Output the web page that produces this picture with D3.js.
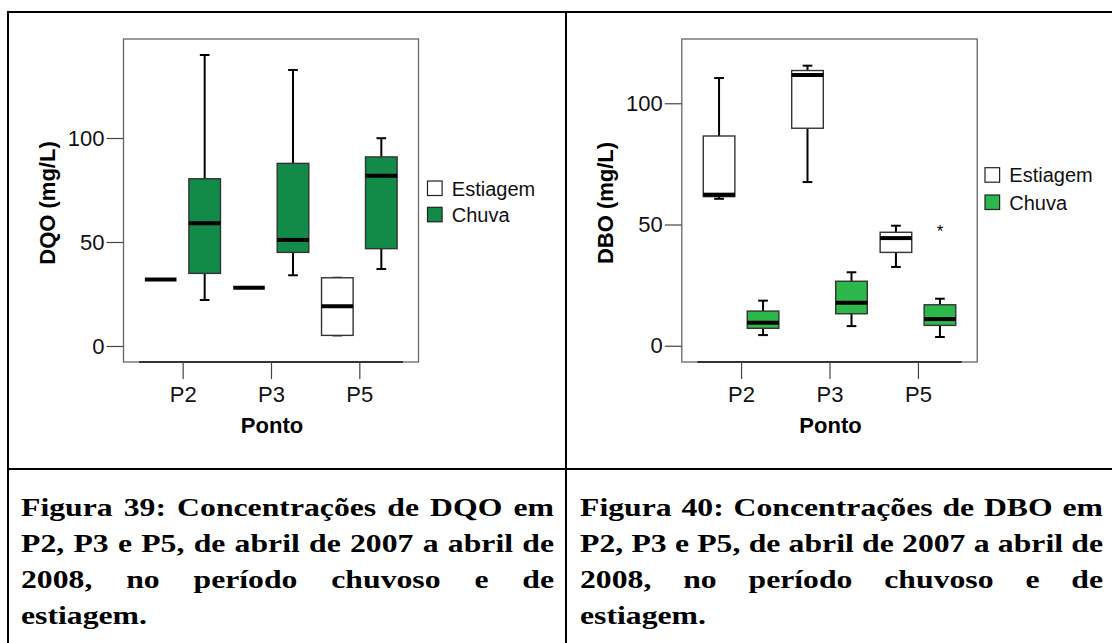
<!DOCTYPE html>
<html>
<head>
<meta charset="utf-8">
<script src="https://cdn.jsdelivr.net/npm/d3@7"></script>
<style>
  body { margin: 0; background: #fff; }
  svg { display: block; }
  .axis text { font-family: "Liberation Sans", Arimo, Arial, Helvetica, sans-serif; font-size: 22px; fill: #111; }
  .axis line { stroke: #444; stroke-width: 1.2; }
  .axis path { display: none; }
</style>
</head>
<body>
<script>
// categorias e séries
const categories = ['P2', 'P3', 'P5'];
const series = ['Estiagem', 'Chuva'];
const yTicks = [0, 50, 100];

// [min, q1, mediana, q3, max] por ponto
const dqoEstiagem = [[32, 32, 32, 32, 32], [28, 28, 28, 28, 28], [5.1, 5.1, 19.1, 32.8, 32.8]];
const dqoChuva = [[22.1, 34.9, 59, 80.4, 139.9], [34, 45, 51, 87.8, 132.7], [37, 46.8, 81.9, 90.9, 99.9]];
const dboEstiagem = [[60.6, 61.5, 62.3, 86.5, 110.4], [67.5, 89.7, 111.7, 113.5, 115.5], [32.5, 38.5, 44.4, 46.8, 49.5]];
const dboChuva = [[4.4, 7.2, 9.5, 14.3, 18.6], [8.1, 13.2, 17.7, 26.6, 30.3], [3.6, 8.4, 11, 16.9, 19.4]];
const dboOutliers = [{ cat: 'P5', serie: 'Chuva', value: 48.7 }];

const captionDqo = ['Figura 39: Concentrações de DQO em', 'P2, P3 e P5, de abril de 2007 a abril de', '2008, no período chuvoso e de', 'estiagem.'];
const captionDbo = ['Figura 40: Concentrações de DBO em', 'P2, P3 e P5, de abril de 2007 a abril de', '2008, no período chuvoso e de', 'estiagem.'];

const W = 1112, H = 643;
const sans = '"Liberation Sans", Arimo, Arial, Helvetica, sans-serif';
const serif = '"Liberation Serif", Tinos, "Times New Roman", "DejaVu Serif", serif';

const svg = d3.select('body').append('svg')
    .attr('width', W)
    .attr('height', H);

// Bordas da tabela
const border = svg.append('g').attr('stroke', '#000').attr('stroke-width', 2);
border.append('line').attr('x1', 7).attr('y1', 12).attr('x2', W).attr('y2', 12);
border.append('line').attr('x1', 8).attr('y1', 11).attr('x2', 8).attr('y2', H);
border.append('line').attr('x1', 566).attr('y1', 11).attr('x2', 566).attr('y2', H);
border.append('line').attr('x1', 7).attr('y1', 469).attr('x2', W).attr('y2', 469);

function drawBoxChart(cfg) {
    const g = svg.append('g');
    const { x0, x1, y0, y1 } = cfg.frame;

    const x = d3.scalePoint().domain(categories).range([x0, x1]).padding(0.67);
    const sub = d3.scaleBand().domain(series).range([-44, 44]);
    const y = d3.scaleLinear().domain(cfg.yDomain).range([y1, y0]);
    const boxW = 31.6, capW = 9.7;
    const fills = { Estiagem: '#ffffff', Chuva: cfg.green };

    // moldura
    g.append('rect')
        .attr('x', x0).attr('y', y0)
        .attr('width', x1 - x0).attr('height', y1 - y0)
        .attr('fill', 'none').attr('stroke', '#666').attr('stroke-width', 1.3);
    g.append('line')
        .attr('x1', x0 + 15.5).attr('x2', x1 - 15.5)
        .attr('y1', y1).attr('y2', y1)
        .attr('stroke', '#111').attr('stroke-width', 1.5);

    // eixos
    g.append('g').attr('class', 'axis')
        .attr('transform', `translate(${x0},0)`)
        .call(d3.axisLeft(y).tickValues(yTicks).tickSize(17).tickPadding(2).tickFormat(d3.format('d')));
    g.append('g').attr('class', 'axis')
        .attr('transform', `translate(0,${y1})`)
        .call(d3.axisBottom(x).tickSize(17).tickPadding(7));

    // títulos
    g.append('text')
        .attr('x', x(categories[1]) + 1).attr('y', 433)
        .attr('text-anchor', 'middle')
        .attr('font-family', sans).attr('font-size', 22).attr('font-weight', 'bold')
        .text('Ponto');
    g.append('text')
        .attr('transform', `translate(${cfg.titleX},203) rotate(-90)`)
        .attr('text-anchor', 'middle')
        .attr('font-family', sans).attr('font-size', 22).attr('font-weight', 'bold')
        .text(cfg.title);

    // dados das caixas
    const boxes = [];
    series.forEach(s => {
        const arr = s === 'Estiagem' ? cfg.estiagem : cfg.chuva;
        categories.forEach((c, i) => {
            const [min, q1, med, q3, max] = arr[i];
            boxes.push({ cat: c, serie: s, min, q1, med, q3, max,
                cx: x(c) + sub(s) + sub.bandwidth() / 2 });
        });
    });

    const item = g.append('g').selectAll('.box').data(boxes).enter().append('g').attr('class', 'box');

    // bigodes
    item.append('line')
        .attr('x1', d => d.cx).attr('x2', d => d.cx)
        .attr('y1', d => y(d.max)).attr('y2', d => y(d.q3))
        .attr('stroke', '#000').attr('stroke-width', 2);
    item.append('line')
        .attr('x1', d => d.cx).attr('x2', d => d.cx)
        .attr('y1', d => y(d.q1)).attr('y2', d => y(d.min))
        .attr('stroke', '#000').attr('stroke-width', 2);
    item.append('line')
        .attr('x1', d => d.cx - capW / 2).attr('x2', d => d.cx + capW / 2)
        .attr('y1', d => y(d.max)).attr('y2', d => y(d.max))
        .attr('stroke', '#000').attr('stroke-width', 2);
    item.append('line')
        .attr('x1', d => d.cx - capW / 2).attr('x2', d => d.cx + capW / 2)
        .attr('y1', d => y(d.min)).attr('y2', d => y(d.min))
        .attr('stroke', '#000').attr('stroke-width', 2);

    // caixas
    item.filter(d => d.q3 > d.q1).append('rect')
        .attr('x', d => d.cx - boxW / 2)
        .attr('y', d => y(d.q3))
        .attr('width', boxW)
        .attr('height', d => y(d.q1) - y(d.q3))
        .attr('fill', d => fills[d.serie])
        .attr('stroke', '#333').attr('stroke-width', 1.4);

    // medianas
    item.append('line')
        .attr('x1', d => d.cx - boxW / 2).attr('x2', d => d.cx + boxW / 2)
        .attr('y1', d => y(d.med)).attr('y2', d => y(d.med))
        .attr('stroke', '#000').attr('stroke-width', 4);

    // outliers extremos
    g.selectAll('.outlier').data(cfg.outliers).enter().append('text')
        .attr('class', 'outlier')
        .attr('x', d => x(d.cat) + sub(d.serie) + sub.bandwidth() / 2)
        .attr('y', d => y(d.value) + 9)
        .attr('text-anchor', 'middle')
        .attr('font-family', sans).attr('font-size', 17)
        .text('*');

    // legenda
    const lg = g.append('g').attr('transform', `translate(${cfg.legend.x},${cfg.legend.y})`);
    const li = lg.selectAll('g').data(series).enter().append('g')
        .attr('transform', (d, i) => `translate(0,${i * cfg.legend.step})`);
    li.append('rect')
        .attr('width', 14.6).attr('height', 14.5)
        .attr('fill', d => fills[d])
        .attr('stroke', '#222').attr('stroke-width', 1.2);
    li.append('text')
        .attr('x', 24.3).attr('y', 14.5)
        .attr('font-family', sans).attr('font-size', 20)
        .attr('fill', '#111')
        .text(d => d);
}

drawBoxChart({
    frame: { x0: 123.5, x1: 418.5, y0: 39, y1: 362 },
    yDomain: [-7.7, 147.6],
    title: 'DQO (mg/L)', titleX: 55,
    green: '#138b48',
    estiagem: dqoEstiagem, chuva: dqoChuva, outliers: [],
    legend: { x: 427.5, y: 181, step: 26.3 }
});

drawBoxChart({
    frame: { x0: 681.8, x1: 977.2, y0: 39, y1: 362 },
    yDomain: [-6.7, 126.5],
    title: 'DBO (mg/L)', titleX: 612.8,
    green: '#2db84b',
    estiagem: dboEstiagem, chuva: dboChuva, outliers: dboOutliers,
    legend: { x: 985, y: 167.7, step: 27.3 }
});

// Legendas das figuras, justificadas
// a fonte serifada disponível é larga: comprime na horizontal até "estiagem." medir ~126px
function drawCaption(lines, xLeft, xRight) {
    const fs = 26;
    const g = svg.append('g')
        .attr('font-family', serif).attr('font-size', fs).attr('font-weight', 'bold');
    const measure = g.append('text');
    measure.text('estiagem.');
    const sx = 126 / measure.node().getComputedTextLength();
    g.attr('transform', `translate(${xLeft},0) scale(${sx},1)`);
    const width = (xRight - xLeft) / sx;
    const baselines = [516, 552, 588, 624];
    lines.forEach((line, li) => {
        const words = line.split(' ');
        const widths = words.map(w => { measure.text(w); return measure.node().getComputedTextLength(); });
        const space = fs * 0.25;
        const last = li === lines.length - 1;
        const gap = last ? space : (width - d3.sum(widths)) / (words.length - 1);
        let cx = 0;
        words.forEach((w, i) => {
            g.append('text')
                .attr('x', cx).attr('y', baselines[li])
                .attr('fill', '#000')
                .text(w);
            cx += widths[i] + gap;
        });
    });
    measure.remove();
}

drawCaption(captionDqo, 21, 554);
drawCaption(captionDbo, 580, 1103);
</script>
</body>
</html>
